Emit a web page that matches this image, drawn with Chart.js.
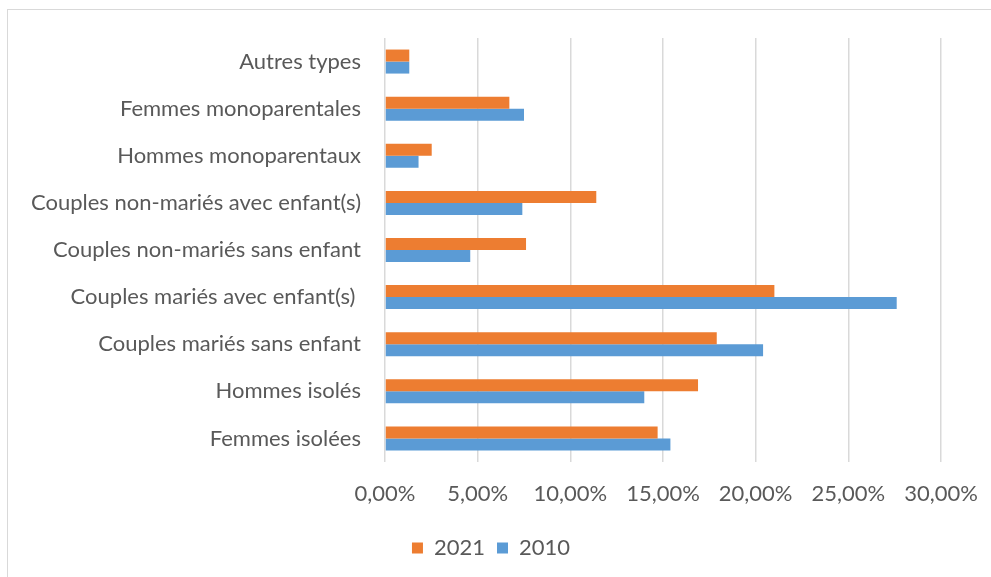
<!DOCTYPE html>
<html>
<head>
<meta charset="utf-8">
<script src="https://cdn.jsdelivr.net/npm/chart.js@4"></script>
<style>
    html, body { margin: 0; padding: 0; background: #fff; overflow: hidden; }
    #frame {
        position: absolute; left: 7px; top: 9px; width: 1100px; height: 700px;
        border: 1px solid #d9d9d9;
    }
    #wrap { position: absolute; left: 0; top: 0; width: 991px; height: 577px; }
</style>
</head>
<body>
<div id="frame"></div>
<div id="wrap"><canvas id="myChart" width="991" height="577"></canvas></div>
<script>
// categories listed top to bottom, as they appear on the chart
const categories = [
    'Autres types',
    'Femmes monoparentales',
    'Hommes monoparentaux',
    'Couples non-mariés avec enfant(s)',
    'Couples non-mariés sans enfant',
    'Couples mariés avec enfant(s) ',
    'Couples mariés sans enfant',
    'Hommes isolés',
    'Femmes isolées'
];
const values2021 = [1.31, 6.71, 2.52, 11.40, 7.61, 21.01, 17.90, 16.89, 14.71];
const values2010 = [1.31, 7.50, 1.81, 7.41, 4.60, 27.61, 20.40, 13.99, 15.40];
const seriesNames = ['2021', '2010'];
const xTicks = [0, 5, 10, 15, 20, 25, 30];

const textColor = '#595959';
const fontFamily = 'Lato, "Open Sans", sans-serif';

function formatPct(v) {
    return v.toFixed(2).replace('.', ',') + '%';
}

const ctx = document.getElementById('myChart');
const chart = new Chart(ctx, {
    type: 'bar',
    data: {
        labels: categories,
        datasets: [{
            label: seriesNames[0],
            data: values2021,
            backgroundColor: '#ED7D31',
            barPercentage: 1,
            categoryPercentage: 0.51
        }, {
            label: seriesNames[1],
            data: values2010,
            backgroundColor: '#5B9BD5',
            barPercentage: 1,
            categoryPercentage: 0.51
        }]
    },
    options: {
        indexAxis: 'y',
        responsive: false,
        animation: false,
        layout: {
            padding: { top: 38, right: 9, bottom: 8, left: 0 }
        },
        plugins: {
            legend: {
                position: 'bottom',
                labels: {
                    boxWidth: 11,
                    boxHeight: 11,
                    padding: 12,
                    color: textColor,
                    font: { size: 22, family: fontFamily }
                }
            },
            tooltip: { enabled: false }
        },
        scales: {
            x: {
                min: 0,
                max: 30,
                afterBuildTicks: function(scale) {
                    scale.ticks = xTicks.map(v => ({ value: v }));
                },
                afterFit: function(scale) {
                    scale.height = 63;
                    scale.paddingLeft = 0;
                    scale.paddingRight = 50;
                },
                ticks: {
                    callback: function(value) { return formatPct(value); },
                    color: textColor,
                    padding: 19,
                    maxRotation: 0,
                    font: { size: 22, family: fontFamily }
                },
                grid: {
                    color: '#d9d9d9',
                    lineWidth: 1.5,
                    drawTicks: false
                },
                border: { display: false }
            },
            y: {
                afterFit: function(scale) {
                    scale.width = 385;
                },
                ticks: {
                    color: textColor,
                    padding: 24,
                    font: { size: 22, family: fontFamily }
                },
                grid: { display: false, drawTicks: false },
                border: { display: false }
            }
        }
    }
});
</script>
</body>
</html>
